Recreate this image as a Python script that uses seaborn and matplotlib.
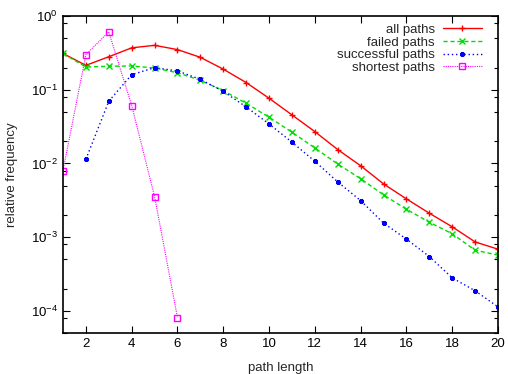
import numpy as np
import pandas as pd
import seaborn as sns
import matplotlib
matplotlib.use("Agg")
import matplotlib.pyplot as plt
from matplotlib.ticker import LogLocator, LogFormatterMathtext, MultipleLocator, NullFormatter

# path lengths
lengths = list(range(1, 21))
shortest_lengths = [1, 2, 3, 4, 5, 6]

# relative frequencies
all_paths = [0.31, 0.214, 0.28, 0.37, 0.40, 0.35, 0.275, 0.19, 0.125, 0.0766,
             0.0455, 0.027, 0.0154, 0.0093, 0.00527, 0.0033, 0.00211, 0.00138,
             0.00086, 0.000686]
failed_paths = [0.31, 0.203, 0.208, 0.21, 0.197, 0.17, 0.134, 0.097, 0.0655, 0.0423,
                0.0265, 0.0162, 0.0098, 0.0062, 0.00374, 0.00239, 0.00159, 0.00111,
                0.000665, 0.000569]
successful_lengths = list(range(2, 21))
successful_paths = [0.0114, 0.0697, 0.160, 0.199, 0.18, 0.138, 0.095, 0.0584, 0.0343,
                    0.0194, 0.0107, 0.0056, 0.00313, 0.00155, 0.00094, 0.000545,
                    0.00028, 0.000187, 0.000113]
shortest_paths = [0.008, 0.30, 0.61, 0.061, 0.00355, 8.1e-5]

sns.set_style("ticks")
plt.rcParams['font.family'] = ['Liberation Sans', 'DejaVu Sans']
plt.rcParams['mathtext.default'] = 'regular'
plt.rcParams['xtick.direction'] = 'in'
plt.rcParams['ytick.direction'] = 'in'

fig = plt.figure(figsize=(5.08, 3.74), dpi=100)
ax = fig.add_axes([63 / 508, 1 - 333 / 374, 435 / 508, 317 / 374])

red, green, blue, magenta = '#ff0000', '#00dd00', '#0000ff', '#ff00ff'

sns.lineplot(x=lengths, y=all_paths, ax=ax, color=red, linestyle='-',
             linewidth=1.0, marker='+', markersize=5, markeredgewidth=1.0,
             markeredgecolor=red, label='all paths')
sns.lineplot(x=lengths, y=failed_paths, ax=ax, color=green, linestyle=(0, (3, 2)),
             linewidth=1.0, marker='x', markersize=4.5, markeredgewidth=1.0,
             markeredgecolor=green, label='failed paths')
sns.lineplot(x=successful_lengths, y=successful_paths, ax=ax, color=blue,
             linestyle=(0, (1, 2)), linewidth=1.0, marker=(8, 2, 0), markersize=3.5,
             markeredgewidth=1.1, markeredgecolor=blue, label='successful paths')
sns.lineplot(x=shortest_lengths, y=shortest_paths, ax=ax, color=magenta,
             linestyle=(0, (1, 1)), linewidth=0.8, marker='s', markersize=5,
             markerfacecolor='none', markeredgewidth=1.0, markeredgecolor=magenta,
             label='shortest paths')

ax.set_yscale('log')
ax.set_xlim(1, 20)
ax.set_ylim(5e-5, 1)
ax.xaxis.set_major_locator(MultipleLocator(2))
ax.yaxis.set_major_locator(LogLocator(base=10, numticks=10))
ax.yaxis.set_major_formatter(LogFormatterMathtext())
ax.yaxis.set_minor_locator(LogLocator(base=10, subs=[2, 5, 8], numticks=10))
ax.yaxis.set_minor_formatter(NullFormatter())
ax.tick_params(which='both', top=True, right=True, labelsize=9.5, colors='black')
ax.tick_params(which='major', length=5, width=0.8)
ax.tick_params(which='minor', length=3, width=0.8)
for s in ax.spines.values():
    s.set_visible(True)
    s.set_linewidth(1.2)
    s.set_color('black')

ax.set_xlabel('path length', fontsize=9.5, labelpad=9)
ax.set_ylabel('relative frequency', fontsize=9.5, labelpad=9)

leg = ax.legend(loc='upper right', bbox_to_anchor=(0.985, 1.005), frameon=False,
                markerfirst=False, fontsize=9.5, handlelength=3.0,
                handletextpad=0.6, labelspacing=0.03, borderaxespad=0.3)

fig.savefig('out.png', dpi=100)
